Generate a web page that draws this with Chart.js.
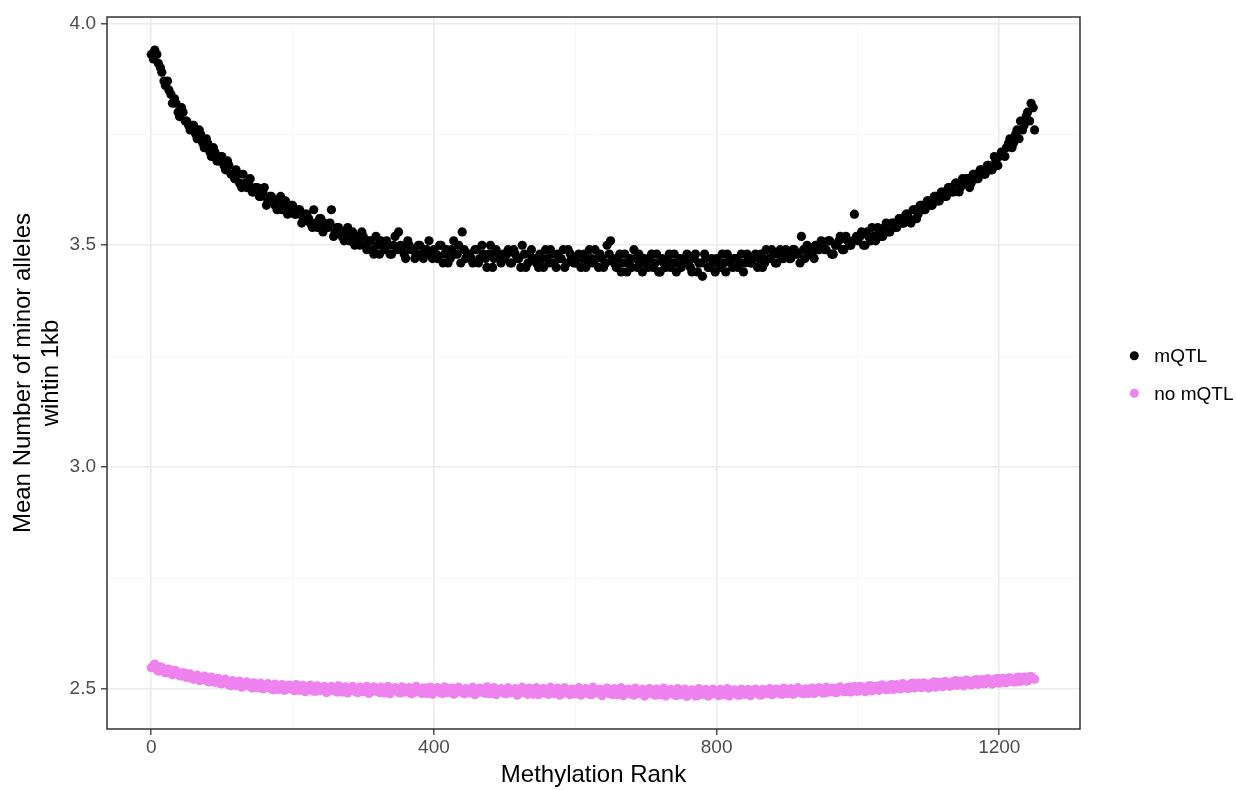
<!DOCTYPE html>
<html>
<head>
<meta charset="utf-8">
<script src="https://cdn.jsdelivr.net/npm/chart.js@4.4.1/dist/chart.umd.min.js"></script>
<style>
  html, body { margin: 0; padding: 0; background: #fff; }
</style>
</head>
<body>
<canvas id="chart" width="1236" height="790"></canvas>
<script>
// ---------------- DATA ----------------
// values, one every 5 ranks starting at rank 0
const mqtlMean = [
  3.93, 3.94, 3.91, 3.89, 3.86, 3.85, 3.82, 3.82, 3.79, 3.80,
  3.78, 3.76, 3.77, 3.74, 3.75, 3.72, 3.73, 3.70, 3.71, 3.69,
  3.70, 3.67, 3.68, 3.66, 3.67, 3.64, 3.66, 3.63, 3.65, 3.62,
  3.63, 3.61, 3.63, 3.60, 3.61, 3.59, 3.60, 3.58, 3.60, 3.58,
  3.59, 3.57, 3.58, 3.56, 3.57, 3.55, 3.58, 3.54, 3.56, 3.55,
  3.54, 3.58, 3.53, 3.54, 3.52, 3.53, 3.51, 3.53, 3.52, 3.50,
  3.52, 3.49, 3.51, 3.48, 3.50, 3.51, 3.49, 3.50, 3.48, 3.52,
  3.53, 3.49, 3.47, 3.50, 3.49, 3.48, 3.50, 3.47, 3.49, 3.48,
  3.49, 3.47, 3.50, 3.48, 3.46, 3.49, 3.48, 3.50, 3.53, 3.47,
  3.48, 3.46, 3.49, 3.47, 3.48, 3.45, 3.50, 3.47, 3.48, 3.46,
  3.47, 3.49, 3.46, 3.48, 3.47, 3.50, 3.45, 3.48, 3.47, 3.46,
  3.48, 3.45, 3.47, 3.49, 3.46, 3.48, 3.47, 3.45, 3.49, 3.47,
  3.46, 3.48, 3.47, 3.45, 3.49, 3.46, 3.47, 3.48, 3.45, 3.50,
  3.51, 3.46, 3.47, 3.44, 3.48, 3.46, 3.45, 3.47, 3.48, 3.44,
  3.46, 3.47, 3.45, 3.48, 3.44, 3.46, 3.47, 3.45, 3.48, 3.46,
  3.45, 3.47, 3.46, 3.44, 3.48, 3.46, 3.43, 3.47, 3.45, 3.46,
  3.47, 3.45, 3.46, 3.48, 3.46, 3.47, 3.45, 3.48, 3.46, 3.47,
  3.46, 3.48, 3.47, 3.45, 3.49, 3.47, 3.48, 3.46, 3.49, 3.47,
  3.48, 3.47, 3.49, 3.48, 3.52, 3.47, 3.49, 3.48, 3.50, 3.49,
  3.50, 3.49, 3.51, 3.48, 3.50, 3.52, 3.49, 3.51, 3.50, 3.57,
  3.51, 3.53, 3.50, 3.52, 3.54, 3.51, 3.53, 3.52, 3.55, 3.53,
  3.55, 3.54, 3.56, 3.55, 3.57, 3.55, 3.58, 3.57, 3.59, 3.58,
  3.60, 3.59, 3.61, 3.60, 3.62, 3.61, 3.63, 3.62, 3.64, 3.63,
  3.64, 3.65, 3.64, 3.66, 3.65, 3.67, 3.66, 3.68, 3.67, 3.69,
  3.70, 3.71, 3.72, 3.74, 3.73, 3.76, 3.78, 3.77, 3.80, 3.82, 3.76
];

// in-between ranks (3, 8, 13, ...)
const mqtlMeanMid = [
  3.92, 3.93, 3.90, 3.87, 3.87, 3.84, 3.83, 3.80, 3.81, 3.78,
  3.77, 3.77, 3.75, 3.76, 3.73, 3.74, 3.71, 3.72, 3.69, 3.70,
  3.68, 3.69, 3.66, 3.65, 3.66, 3.63, 3.64, 3.64, 3.62, 3.63,
  3.61, 3.62, 3.59, 3.61, 3.60, 3.58, 3.61, 3.59, 3.57, 3.59,
  3.57, 3.58, 3.55, 3.57, 3.56, 3.54, 3.55, 3.56, 3.53, 3.54,
  3.55, 3.52, 3.54, 3.53, 3.51, 3.54, 3.52, 3.50, 3.51, 3.53,
  3.50, 3.51, 3.49, 3.52, 3.48, 3.50, 3.51, 3.48, 3.50, 3.49,
  3.50, 3.48, 3.51, 3.49, 3.47, 3.50, 3.48, 3.49, 3.51, 3.47,
  3.48, 3.50, 3.46, 3.49, 3.47, 3.51, 3.48, 3.46, 3.49, 3.48,
  3.47, 3.49, 3.46, 3.50, 3.47, 3.48, 3.45, 3.49, 3.47, 3.48,
  3.48, 3.46, 3.49, 3.47, 3.45, 3.48, 3.46, 3.49, 3.47, 3.45,
  3.47, 3.49, 3.46, 3.48, 3.45, 3.47, 3.49, 3.46, 3.48, 3.46,
  3.47, 3.45, 3.48, 3.46, 3.47, 3.49, 3.45, 3.47, 3.46, 3.48,
  3.47, 3.45, 3.48, 3.46, 3.44, 3.47, 3.49, 3.45, 3.46, 3.47,
  3.45, 3.48, 3.46, 3.44, 3.47, 3.45, 3.48, 3.46, 3.44, 3.47,
  3.46, 3.48, 3.45, 3.47, 3.44, 3.46, 3.48, 3.45, 3.47, 3.44,
  3.46, 3.48, 3.44, 3.47, 3.45, 3.47, 3.46, 3.44, 3.48, 3.46,
  3.47, 3.45, 3.48, 3.46, 3.47, 3.49, 3.46, 3.48, 3.47, 3.49,
  3.47, 3.49, 3.48, 3.46, 3.49, 3.50, 3.48, 3.47, 3.49, 3.51,
  3.49, 3.51, 3.48, 3.50, 3.51, 3.49, 3.52, 3.50, 3.51, 3.52,
  3.52, 3.50, 3.53, 3.51, 3.52, 3.54, 3.52, 3.54, 3.53, 3.55,
  3.54, 3.56, 3.55, 3.57, 3.56, 3.58, 3.56, 3.59, 3.58, 3.60,
  3.59, 3.61, 3.60, 3.62, 3.61, 3.63, 3.62, 3.64, 3.62, 3.65,
  3.65, 3.63, 3.66, 3.65, 3.67, 3.66, 3.68, 3.67, 3.70, 3.68,
  3.71, 3.70, 3.73, 3.72, 3.75, 3.74, 3.76, 3.79, 3.78, 3.81
];

const noMqtlMean = [
  2.548, 2.556, 2.540, 2.549, 2.536, 2.545, 2.532, 2.541, 2.530, 2.537,
  2.526, 2.534, 2.522, 2.531, 2.520, 2.529, 2.517, 2.527, 2.515, 2.524,
  2.512, 2.522, 2.509, 2.519, 2.508, 2.518, 2.506, 2.516, 2.505, 2.514,
  2.503, 2.513, 2.502, 2.512, 2.500, 2.511, 2.499, 2.510, 2.498, 2.509,
  2.498, 2.510, 2.497, 2.508, 2.496, 2.509, 2.495, 2.507, 2.497, 2.506,
  2.494, 2.506, 2.496, 2.507, 2.493, 2.505, 2.495, 2.506, 2.493, 2.504,
  2.494, 2.506, 2.492, 2.505, 2.495, 2.504, 2.491, 2.506, 2.494, 2.503,
  2.492, 2.505, 2.493, 2.503, 2.491, 2.506, 2.494, 2.502, 2.490, 2.504,
  2.493, 2.503, 2.491, 2.505, 2.492, 2.502, 2.490, 2.504, 2.493, 2.501,
  2.491, 2.504, 2.490, 2.502, 2.493, 2.505, 2.489, 2.503, 2.492, 2.501,
  2.490, 2.503, 2.492, 2.501, 2.489, 2.504, 2.491, 2.502, 2.488, 2.503,
  2.491, 2.501, 2.489, 2.504, 2.490, 2.502, 2.488, 2.503, 2.491, 2.500,
  2.489, 2.503, 2.490, 2.501, 2.488, 2.504, 2.491, 2.500, 2.489, 2.502,
  2.490, 2.501, 2.487, 2.503, 2.489, 2.500, 2.488, 2.502, 2.490, 2.499,
  2.488, 2.501, 2.489, 2.500, 2.487, 2.502, 2.488, 2.499, 2.490, 2.501,
  2.487, 2.500, 2.489, 2.498, 2.484, 2.501, 2.488, 2.499, 2.486, 2.500,
  2.488, 2.499, 2.487, 2.501, 2.489, 2.498, 2.486, 2.500, 2.488, 2.499,
  2.489, 2.500, 2.487, 2.499, 2.490, 2.501, 2.488, 2.500, 2.489, 2.502,
  2.490, 2.501, 2.489, 2.503, 2.491, 2.500, 2.490, 2.502, 2.492, 2.503,
  2.491, 2.504, 2.493, 2.502, 2.492, 2.505, 2.494, 2.503, 2.493, 2.506,
  2.495, 2.505, 2.494, 2.507, 2.496, 2.506, 2.497, 2.509, 2.498, 2.508,
  2.499, 2.510, 2.500, 2.511, 2.501, 2.512, 2.502, 2.513, 2.503, 2.512,
  2.502, 2.514, 2.504, 2.515, 2.505, 2.516, 2.506, 2.517, 2.508, 2.518,
  2.507, 2.519, 2.509, 2.520, 2.510, 2.521, 2.512, 2.522, 2.511, 2.523,
  2.513, 2.524, 2.514, 2.525, 2.516, 2.526, 2.517, 2.527, 2.518, 2.528, 2.522
];

const noMqtlMeanMid = [
  2.552, 2.544, 2.550, 2.539, 2.543, 2.535, 2.542, 2.533, 2.529, 2.535,
  2.531, 2.523, 2.528, 2.519, 2.526, 2.521, 2.516, 2.523, 2.518, 2.512,
  2.519, 2.513, 2.507, 2.515, 2.511, 2.504, 2.513, 2.509, 2.502, 2.511,
  2.507, 2.500, 2.509, 2.504, 2.498, 2.507, 2.503, 2.497, 2.506, 2.501,
  2.496, 2.505, 2.500, 2.494, 2.504, 2.499, 2.495, 2.503, 2.498, 2.492,
  2.502, 2.497, 2.493, 2.503, 2.498, 2.491, 2.501, 2.496, 2.492, 2.502,
  2.497, 2.490, 2.500, 2.495, 2.492, 2.502, 2.496, 2.489, 2.499, 2.494,
  2.491, 2.501, 2.495, 2.489, 2.500, 2.494, 2.490, 2.502, 2.496, 2.488,
  2.499, 2.494, 2.490, 2.501, 2.495, 2.488, 2.499, 2.493, 2.489, 2.500,
  2.494, 2.487, 2.498, 2.493, 2.490, 2.500, 2.494, 2.487, 2.498, 2.492,
  2.489, 2.499, 2.493, 2.486, 2.497, 2.492, 2.488, 2.500, 2.494, 2.487,
  2.497, 2.491, 2.488, 2.499, 2.493, 2.486, 2.496, 2.491, 2.487, 2.498,
  2.492, 2.486, 2.497, 2.490, 2.487, 2.499, 2.492, 2.485, 2.496, 2.490,
  2.487, 2.498, 2.491, 2.485, 2.496, 2.489, 2.486, 2.497, 2.491, 2.484,
  2.495, 2.489, 2.486, 2.497, 2.490, 2.484, 2.495, 2.488, 2.485, 2.496,
  2.490, 2.483, 2.494, 2.488, 2.485, 2.496, 2.489, 2.484, 2.495, 2.489,
  2.485, 2.496, 2.490, 2.484, 2.495, 2.489, 2.486, 2.497, 2.490, 2.485,
  2.496, 2.490, 2.486, 2.497, 2.491, 2.487, 2.498, 2.492, 2.488, 2.499,
  2.493, 2.488, 2.499, 2.494, 2.489, 2.500, 2.495, 2.490, 2.501, 2.496,
  2.491, 2.502, 2.497, 2.492, 2.503, 2.498, 2.494, 2.504, 2.499, 2.495,
  2.506, 2.500, 2.496, 2.507, 2.502, 2.498, 2.509, 2.503, 2.499, 2.510,
  2.505, 2.501, 2.512, 2.506, 2.502, 2.513, 2.508, 2.504, 2.514, 2.509,
  2.505, 2.516, 2.510, 2.507, 2.517, 2.512, 2.508, 2.519, 2.513, 2.509,
  2.520, 2.515, 2.511, 2.521, 2.516, 2.512, 2.523, 2.517, 2.514, 2.524,
  2.519, 2.515, 2.525, 2.520, 2.516, 2.527, 2.521, 2.518, 2.528, 2.523
];

const rankStep = 5;
const midOffset = 3;
const seriesNames = ["mQTL", "no mQTL"];
const seriesColors = ["#000000", "#EE82EE"];

const xTicks = [0, 200, 400, 600, 800, 1000, 1200];
const xLabels = [0, 400, 800, 1200];
const yTicks = [2.5, 2.75, 3.0, 3.25, 3.5, 3.75, 4.0];
const yLabels = [2.5, 3.0, 3.5, 4.0];

// ---------------- HELPERS ----------------
const FONT = '"Liberation Sans", Arial, Helvetica, sans-serif';
const toPoints = (vals, start) => vals.map((v, i) => ({ x: start + i * rankStep, y: v }));
const isMajor = (list) => (c) => c.tick && list.some(v => Math.abs(v - c.tick.value) < 1e-9);

// panel border like ggplot theme_bw
const panelBorder = {
  id: "panelBorder",
  afterDraw(chart) {
    const { ctx, chartArea: a } = chart;
    ctx.save();
    ctx.strokeStyle = "#333333";
    ctx.lineWidth = 1.5;
    ctx.strokeRect(a.left, a.top, a.right - a.left, a.bottom - a.top);
    ctx.restore();
  }
};

// legend at the right, dots + labels
const sideLegend = {
  id: "sideLegend",
  afterDraw(chart) {
    const { ctx } = chart;
    ctx.save();
    chart.data.datasets.forEach((ds, i) => {
      const y = 355.7 + i * 37.6;
      ctx.beginPath();
      ctx.fillStyle = ds.backgroundColor;
      ctx.arc(1134.3, y, 4.5, 0, Math.PI * 2);
      ctx.fill();
      ctx.fillStyle = "#000000";
      ctx.font = "19px " + FONT;
      ctx.textBaseline = "middle";
      ctx.textAlign = "left";
      ctx.fillText(ds.label, 1154.3, y + 1);
    });
    ctx.restore();
  }
};

// ---------------- CHART ----------------
const ctx = document.getElementById("chart").getContext("2d");
new Chart(ctx, {
  type: "scatter",
  data: {
    datasets: [
      {
        label: seriesNames[0],
        data: [...toPoints(mqtlMean, 0), ...toPoints(mqtlMeanMid, midOffset)],
        backgroundColor: seriesColors[0],
        borderWidth: 0,
        pointRadius: 4.6
      },
      {
        label: seriesNames[1],
        data: [...toPoints(noMqtlMean, 0), ...toPoints(noMqtlMeanMid, midOffset)],
        backgroundColor: seriesColors[1],
        borderWidth: 0,
        pointRadius: 4.6
      }
    ]
  },
  options: {
    responsive: false,
    devicePixelRatio: 1,
    animation: false,
    layout: { padding: { top: 17, right: 156, bottom: 0, left: 0 } },
    plugins: {
      legend: { display: false },
      tooltip: { enabled: false }
    },
    scales: {
      x: {
        type: "linear",
        min: -62.6,
        max: 1314.2,
        afterBuildTicks: s => { s.ticks = xTicks.map(v => ({ value: v })); },
        afterFit: s => { s.height = 61; },
        border: { display: false },
        grid: {
          color: c => isMajor(xLabels)(c) ? "#ebebeb" : "#f4f4f4",
          lineWidth: c => isMajor(xLabels)(c) ? 1.6 : 0.8,
          tickLength: 6,
          tickWidth: 1.3,
          tickColor: c => isMajor(xLabels)(c) ? "#333333" : "rgba(0,0,0,0)"
        },
        ticks: {
          autoSkip: false,
          maxRotation: 0,
          padding: 1,
          color: "#4d4d4d",
          font: { family: FONT, size: 19 },
          callback: v => xLabels.includes(v) ? String(v) : ""
        },
        title: {
          display: true,
          text: "Methylation Rank",
          color: "#000000",
          font: { family: FONT, size: 24, lineHeight: 1.1667 },
          padding: { top: 0, bottom: 1 }
        }
      },
      y: {
        type: "linear",
        min: 2.4098,
        max: 4.0144,
        afterBuildTicks: s => { s.ticks = yTicks.map(v => ({ value: v })); },
        afterFit: s => { s.width = 107; },
        border: { display: false },
        grid: {
          color: c => isMajor(yLabels)(c) ? "#ebebeb" : "#f4f4f4",
          lineWidth: c => isMajor(yLabels)(c) ? 1.6 : 0.8,
          tickLength: 6,
          tickWidth: 1.3,
          tickColor: c => isMajor(yLabels)(c) ? "#333333" : "rgba(0,0,0,0)"
        },
        ticks: {
          autoSkip: false,
          padding: 5,
          color: "#4d4d4d",
          font: { family: FONT, size: 19 },
          callback: v => yLabels.some(l => Math.abs(l - v) < 1e-9) ? v.toFixed(1) : ""
        },
        title: {
          display: true,
          text: ["Mean Number of minor alleles", "wihtin 1kb"],
          color: "#000000",
          font: { family: FONT, size: 24, lineHeight: 1.1667 },
          padding: { top: 9.6, bottom: 0 }
        }
      }
    }
  },
  plugins: [panelBorder, sideLegend]
});
</script>
</body>
</html>
